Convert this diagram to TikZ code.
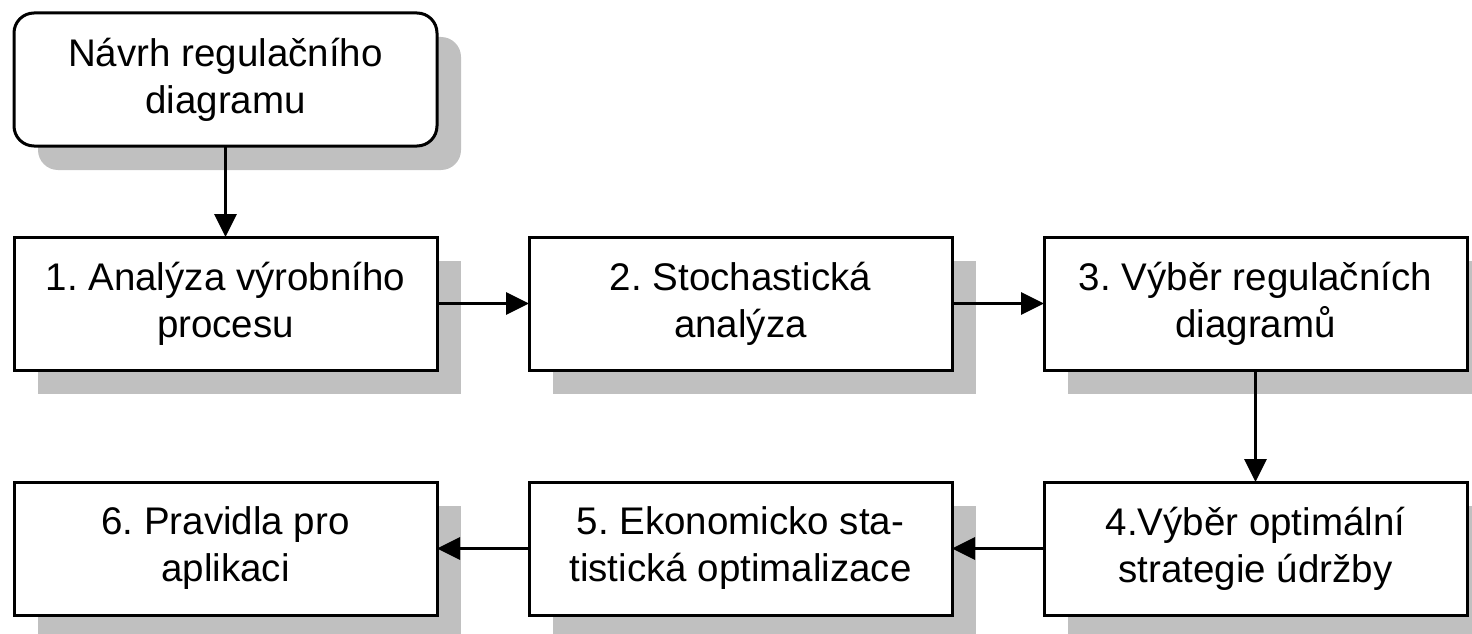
\documentclass[tikz,border=0pt]{standalone}
\usepackage{fontspec}
\setmainfont{Liberation Sans}
\usepackage{tikz}
\usetikzlibrary{positioning, arrows.meta, shadows}
\definecolor{shadowgray}{HTML}{C0C0C0}
\frenchspacing

\begin{document}
\begin{tikzpicture}[
  x=1pt, y=-1pt,
  box/.style={draw=black, line width=3pt, fill=white, align=center, font=\fontsize{38.5}{47}\selectfont,
    minimum width=423pt, minimum height=133pt, inner sep=0pt, outer sep=0pt,
    drop shadow={shadow xshift=24pt, shadow yshift=-24pt, fill=shadowgray, opacity=1}},
  rbox/.style={box, rounded corners=20pt},
  arr/.style={-{Triangle[length=23pt, width=22pt]}, line width=3pt, black}
]
  \useasboundingbox (0,0) rectangle (1472,634);
  \node[box] (analysis) at (225.5,303.5) {1. Analýza výrobního\\ procesu};
  \node[rbox, above=91pt of analysis] (design) {Návrh regulačního\\ diagramu};
  \node[box, right=92pt of analysis] (stoch) {2. Stochastická\\ analýza};
  \node[box, right=92pt of stoch] (choice) {3. Výběr regulačních\\ diagramů};
  \node[box, below=112pt of choice] (strategy) {4.Výběr optimální\\ strategie údržby};
  \node[box, left=92pt of strategy] (optim) {5. Ekonomicko sta-\\ tistická optimalizace};
  \node[box, left=92pt of optim] (rules) {6. Pravidla pro\\ aplikaci};
  \draw[arr] (design) -- (analysis);
  \draw[arr] (analysis) -- (stoch);
  \draw[arr] (stoch) -- (choice);
  \draw[arr] (choice) -- (strategy);
  \draw[arr] (strategy) -- (optim);
  \draw[arr] (optim) -- (rules);
\end{tikzpicture}
\end{document}
